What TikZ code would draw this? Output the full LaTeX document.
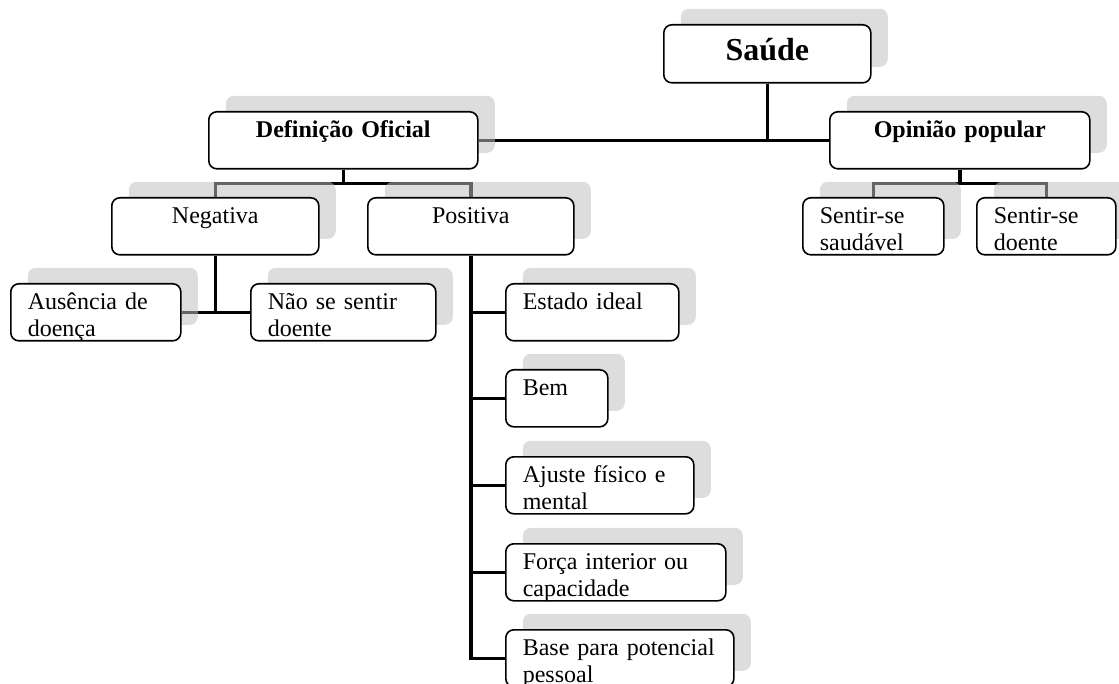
\documentclass[tikz,border=0pt]{standalone}
\usepackage{fontspec}
\setmainfont{Liberation Serif}
\usepackage{tikz}
\usetikzlibrary{positioning, calc, shadows, backgrounds}

\tikzset{
    card/.style={draw, line width=1.6pt, rounded corners=8pt, fill=white,
        anchor=north west, inner xsep=17pt, inner ysep=0pt,
        text width={#1pt-34pt}, align=left, text height=26pt, text depth=31pt,
        font=\fontsize{24}{27}\selectfont,
        drop shadow={shadow xshift=17pt, shadow yshift=16pt, fill=black!25, opacity=.53}},
    mid/.style={card=#1, align=center},
    head/.style={card=#1, align=center, font=\fontsize{24}{27}\selectfont\bfseries},
    link/.style={line width=3.5pt},
}

\begin{document}
\begin{tikzpicture}[x=1pt, y=-1pt]
    \useasboundingbox (0,0) rectangle (1119,684);
    % top levels
    \node[head=207, font=\fontsize{32}{36}\selectfont\bfseries, text height=36pt, text depth=22pt] (saude) at (663,24) {Saúde};
    \node[head=269] (defi) at (208,111) {Definição Oficial};
    \node[head=260] (opin) at (829,111) {Opinião popular};
    % second level
    \node[mid=207] (neg) at (111,197) {Negativa};
    \node[mid=206] (pos) at (367,197) {Positiva};
    \node[card=141] (ssau) at (802,197) {Sentir-se\\saudável};
    \node[card=139] (sdoe) at (976,197) {Sentir-se\\doente};
    % leaves
    \node[card=170] (aus) at (10,283) {Ausência de\\doença};
    \node[card=185] (nao) at (250,283) {Não se sentir\\doente};
    \node[card=173] (est) at (505,283) {Estado ideal};
    \node[card=102] (bem) at (505,369) {Bem};
    \node[card=188] (aju) at (505,456) {Ajuste físico e\\mental};
    \node[card=220] (forca) at (505,543) {Força interior ou\\capacidade};
    \node[card=228] (base) at (505,629) {Base para potencial\\pessoal};
    % connectors under the shadows
    \begin{scope}[on background layer]
    \begin{scope}[link]
        \draw (saude.south) -- (saude.south |- defi.east);
        \draw (defi.east) -- (opin.west);
        \coordinate (dj) at ($(defi.south)+(0,14)$);
        \draw (defi.south) -- (dj) -| (neg.north);
        \draw (dj) -| (pos.north);
        \coordinate (oj) at ($(opin.south)+(0,14)$);
        \draw (opin.south) -- (oj) -| (ssau.north);
        \draw (oj) -| (sdoe.north);
        \draw (neg.south) |- (aus.east);
        \draw (neg.south) |- (nao.west);
        \foreach \n in {est, bem, aju, forca, base}
            \draw (pos.south) |- (\n.west);
    \end{scope}
    \end{scope}
\end{tikzpicture}
\end{document}
